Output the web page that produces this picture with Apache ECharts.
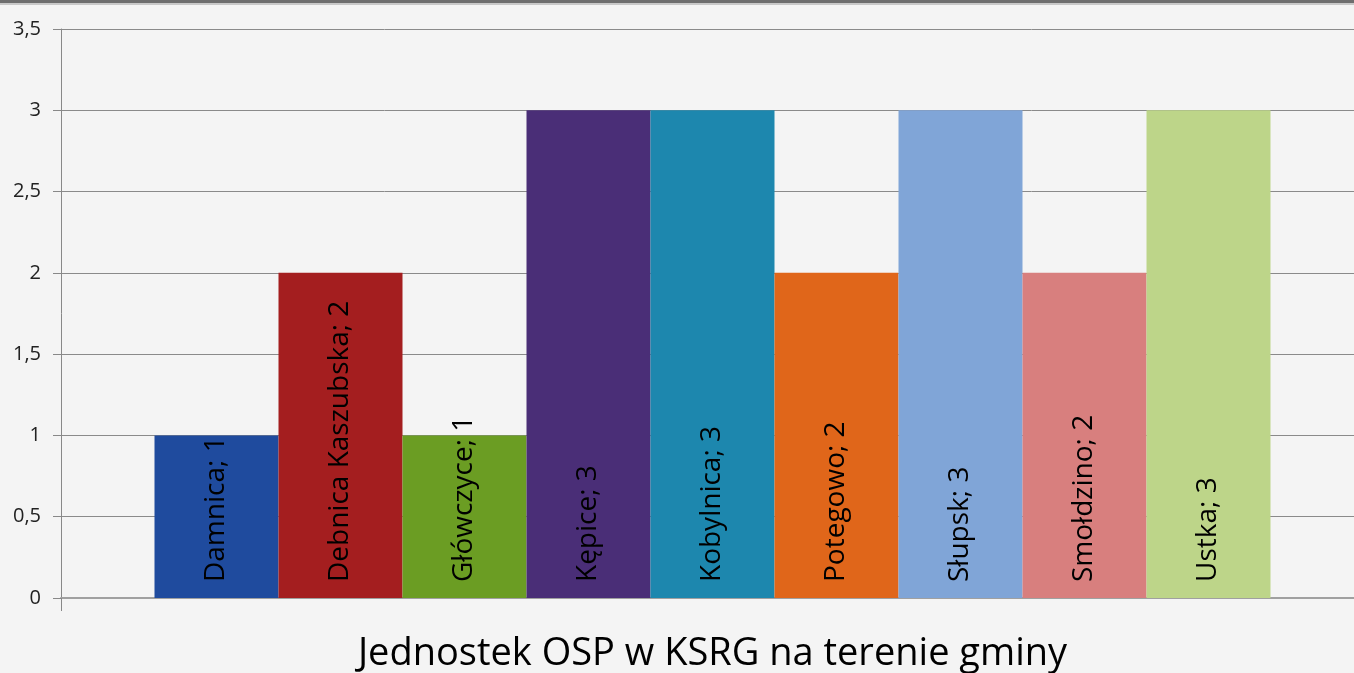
<!DOCTYPE html>
<html>
<head>
<meta charset="utf-8">
<script src="https://cdn.jsdelivr.net/npm/echarts@6/dist/echarts.min.js"></script>
<style>
html,body{margin:0;padding:0;background:#f4f4f4;}
#chart{width:1354px;height:673px;}
</style>
</head>
<body>
<div id="chart"></div>
<script>
// dane
var categories = ['Jednostek OSP w KSRG na terenie gminy'];
var gminy = ['Damnica', 'Debnica Kaszubska', 'Główczyce', 'Kępice', 'Kobylnica', 'Potegowo', 'Słupsk', 'Smołdzino', 'Ustka'];
var wartosci = [1, 2, 1, 3, 3, 2, 3, 2, 3];
var kolory = ['#1f4b9e', '#a41e1f', '#6b9d23', '#4a2e77', '#1d87ae', '#e0661a', '#80a5d7', '#d87f7e', '#bdd589'];
var yTicks = ['0', '0,5', '1', '1,5', '2', '2,5', '3', '3,5'];

var series = [];
for (var i = 0; i < gminy.length; i++) {
	series.push({
		name: gminy[i],
		type: 'bar',
		data: [wartosci[i]],
		barWidth: 124,
		barGap: '0%',
		itemStyle: { color: kolory[i] },
		label: {
			show: true,
			position: 'insideBottom',
			rotate: 90,
			align: 'left',
			verticalAlign: 'middle',
			distance: 16,
			formatter: '{a}; {c}',
			color: '#000',
			fontFamily: 'Open Sans',
			fontSize: 28
		}
	});
}

var option = {
	backgroundColor: '#f4f4f4',
	animation: false,
	graphic: [{
		type: 'rect',
		shape: { x: 0, y: 0, width: 1354, height: 3 },
		style: { fill: '#6e6e6e' }
	}, {
		type: 'rect',
		shape: { x: 0, y: 3, width: 1354, height: 2 },
		style: { fill: '#c8c8c8' }
	}],
	grid: { left: 61, top: 29, bottom: 75, width: 1303, outerBoundsMode: 'none' },
	xAxis: {
		type: 'category',
		data: categories,
		axisLine: { lineStyle: { color: '#a0a0a0', width: 2 } },
		axisTick: { show: true, length: 13, lineStyle: { color: '#888' } },
		axisLabel: {
			color: '#000',
			fontFamily: 'Open Sans',
			fontSize: 38,
			margin: 37
		}
	},
	yAxis: {
		type: 'value',
		min: 0,
		max: 3.5,
		interval: 0.5,
		axisLine: { show: true, lineStyle: { color: '#888' } },
		axisTick: { show: true, length: 8, lineStyle: { color: '#888' } },
		axisLabel: {
			color: '#222',
			fontFamily: 'Open Sans',
			fontSize: 20,
			margin: 20,
			formatter: function (v) { return yTicks[Math.round(v * 2)]; }
		},
		splitLine: { lineStyle: { color: '#8a8a8a' } }
	},
	series: series
};

var myChart = echarts.init(document.getElementById('chart'));
myChart.setOption(option, true);
</script>
</body>
</html>
